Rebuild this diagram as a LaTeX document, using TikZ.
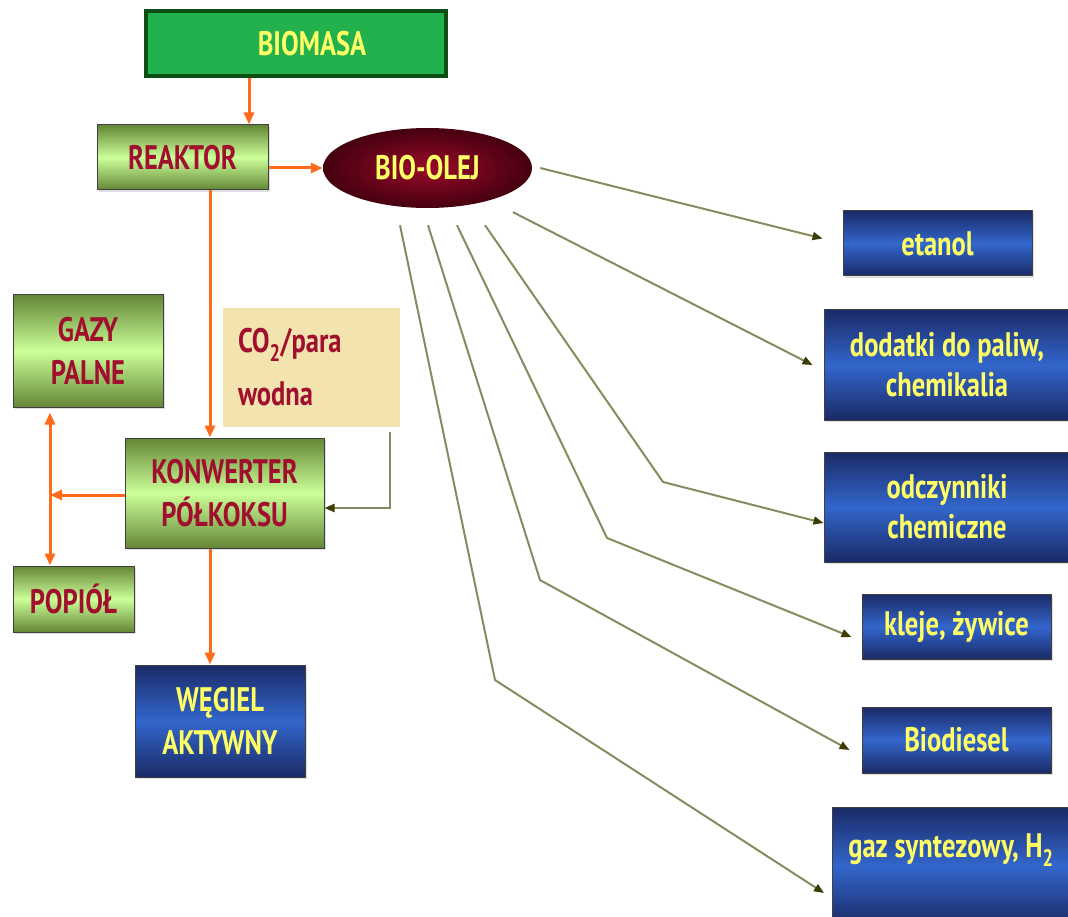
\documentclass[tikz,border=0pt]{standalone}
\usepackage{fontspec}
\setmainfont{PT Sans}[FakeStretch=0.78]
\usetikzlibrary{positioning, arrows.meta, shadows, shapes.geometric}
\definecolor{orangeLine}{HTML}{FF6B1A}
\definecolor{oliveLine}{HTML}{8A8A60}
\definecolor{oliveTip}{HTML}{3D3D05}
\definecolor{limeDark}{HTML}{648636}
\definecolor{limeLight}{HTML}{CCFF99}
\definecolor{navyDark}{HTML}{1A2A66}
\definecolor{blueMid}{HTML}{3366CC}
\definecolor{labelRed}{HTML}{A0102E}
\definecolor{labelYellow}{HTML}{FFFF66}
\definecolor{biomasaGreen}{HTML}{22B14C}
\definecolor{biomasaEdge}{HTML}{0B4F14}
\definecolor{oilCore}{HTML}{9A0A2A}
\definecolor{oilRim}{HTML}{45000F}
\definecolor{steamBeige}{HTML}{F2E3AF}

\tikzset{
  box/.style={rectangle, draw=black!75, line width=1pt, align=center,
    drop shadow={shadow xshift=2pt, shadow yshift=-2pt, opacity=.25}},
  greenbox/.style={box, top color=limeDark, bottom color=limeDark, middle color=limeLight,
    text=labelRed, font=\fontsize{34}{43}\selectfont\bfseries},
  bluebox/.style={box, top color=navyDark, bottom color=navyDark, middle color=blueMid,
    text=labelYellow, font=\fontsize{34}{40}\selectfont\bfseries},
  flow/.style={-{Triangle[length=12pt,width=10pt]}, orangeLine, line width=3pt},
  feed/.style={-{Triangle[length=10pt,width=8pt,color=oliveTip]}, oliveLine, line width=2pt},
}

\begin{document}
\begin{tikzpicture}[x=1pt, y=-1pt]
    \clip (0,0) rectangle (1068,917);
    \fill[white] (0,0) rectangle (1068,917);

    % main line
    \node[box, fill=biomasaGreen, draw=biomasaEdge, line width=4pt, text=labelYellow,
      font=\fontsize{34}{43}\selectfont\bfseries, minimum width=300pt, minimum height=65pt]
      (biomasa) at (295.5,44) {\hspace*{33pt}BIOMASA};
    \node[greenbox, minimum width=171pt, minimum height=65pt] (reaktor) at (182.5,157.5) {REAKTOR};
    \node[ellipse, inner color=oilCore, outer color=oilRim, minimum width=209pt, minimum height=80pt,
      text=labelYellow, font=\fontsize{34}{43}\selectfont\bfseries] (bioolej) at (427.5,168) {BIO-OLEJ};

    \node[greenbox, minimum width=150pt, minimum height=112pt] (gazy) at (88,351) {GAZY\\PALNE};
    \node[fill=steamBeige, text=labelRed, font=\fontsize{34}{53}\selectfont\bfseries, align=left,
      text width=147pt, inner xsep=15pt, minimum height=119pt] (co2) at (311.5,367.5) {CO\textsubscript{2}/para\\wodna};
    \node[greenbox, minimum width=199pt, minimum height=110pt] (konwerter) at (224.5,493) {KONWERTER\\PÓŁKOKSU};
    \node[greenbox, minimum width=121pt, minimum height=66pt] (popiol) at (73.5,599) {POPIÓŁ};
    \node[bluebox, font=\fontsize{34}{43}\selectfont\bfseries, minimum width=170pt, minimum height=112pt]
      (wegiel) at (220,721) {WĘGIEL\\AKTYWNY};

    % products
    \node[bluebox, minimum width=189pt, minimum height=65pt] (etanol) at (937.5,243.5) {etanol};
    \node[bluebox, minimum width=246pt, minimum height=110pt] (dodatki) at (947,365) {dodatki do paliw,\\chemikalia};
    \node[bluebox, minimum width=246pt, minimum height=110pt] (odczynniki) at (947,507) {odczynniki\\chemiczne};
    \node[bluebox, minimum width=189pt, minimum height=65pt] (kleje) at (956.5,626.5) {kleje, żywice};
    \node[bluebox, minimum width=189pt, minimum height=66pt] (biodiesel) at (956.5,740) {Biodiesel};
    \node[bluebox, minimum width=237pt, minimum height=118pt, text depth=40pt] (gaz) at (951,866) {gaz syntezowy, H\textsubscript{2}};

    \draw[flow] ([xshift=-46.5pt]biomasa.south) -- ([xshift=-46.5pt]biomasa.south |- reaktor.north);
    \draw[flow] (reaktor.east |- bioolej.west) -- (bioolej.west);
    \draw[flow] ([xshift=-14.5pt]konwerter.north |- reaktor.south) -- ([xshift=-14.5pt]konwerter.north);
    \draw[flow] ([xshift=-14.5pt]konwerter.south) -- ([xshift=-14.5pt]konwerter.south |- wegiel.north);

    \coordinate (split) at (50,495);
    \draw[flow] (konwerter.west |- split) -- (split);
    \draw[flow, {Triangle[length=12pt,width=10pt]}-{Triangle[length=12pt,width=10pt]}]
      ([yshift=-5pt]split |- gazy.south) -- (split |- popiol.north);

    \draw[feed] ([xshift=78.5pt,yshift=-5pt]co2.south) |- ([yshift=-15pt]konwerter.east);

    \draw[feed] ([xshift=8pt]bioolej.east) -- ([xshift=-20pt,yshift=5pt]etanol.west);
    \draw[feed] ([xshift=85.5pt,yshift=-4pt]bioolej.south) -- ([xshift=-11pt]dodatki.west);
    \draw[feed] ([xshift=57.5pt,yshift=-17pt]bioolej.south) -- (663,482) -- ([yshift=-16pt]odczynniki.west);
    \draw[feed] ([xshift=29.5pt,yshift=-17pt]bioolej.south) -- (607,538) -- ([xshift=-10pt,yshift=-10.5pt]kleje.west);
    \draw[feed] ([xshift=0.5pt,yshift=-17pt]bioolej.south) -- (540,580) -- ([xshift=-12pt,yshift=-10pt]biodiesel.west);
    \draw[feed] ([xshift=-27.5pt,yshift=-17pt]bioolej.south) -- (495,680) -- ([xshift=-8pt,yshift=-27pt]gaz.west);
\end{tikzpicture}
\end{document}
